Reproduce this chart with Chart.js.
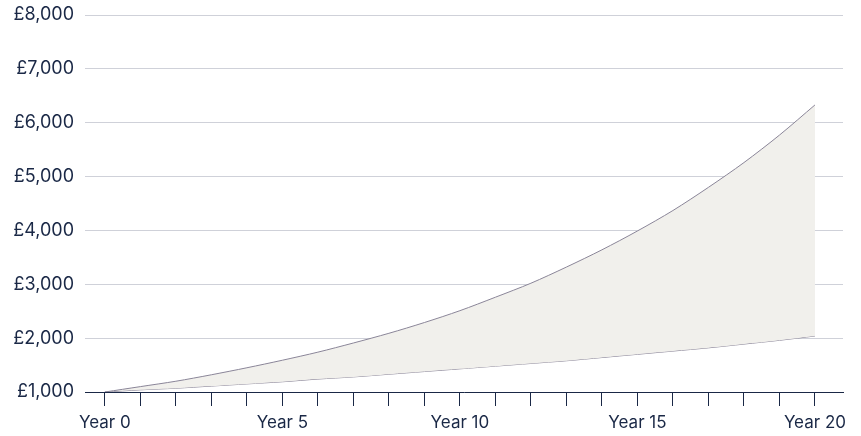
<!DOCTYPE html>
<html>
<head>
<meta charset="utf-8">
<script src="https://cdn.jsdelivr.net/npm/chart.js@4"></script>
<style>
  html, body { margin: 0; padding: 0; background: #fff; }
  #wrap { width: 861px; height: 436px; }
</style>
</head>
<body>
<div id="wrap"><canvas id="growth"></canvas></div>
<script>
const years = [0,1,2,3,4,5,6,7,8,9,10,11,12,13,14,15,16,17,18,19,20];
const upperValues = [1000,1100,1200,1320,1450,1590,1740,1910,2090,2290,2510,2760,3020,3320,3640,3990,4370,4800,5260,5770,6330];
const lowerValues = [1000,1040,1070,1110,1150,1190,1240,1280,1330,1380,1430,1480,1530,1580,1640,1700,1760,1820,1890,1960,2040];
const yTicks = [1000,2000,3000,4000,5000,6000,7000,8000];
const labelEvery = 5;

const navy = '#1a2846';
const lineCol = '#8a8598';

const toPoints = vals => years.map((y, i) => ({x: y, y: vals[i]}));

new Chart(document.getElementById('growth'), {
    type : 'line',
    data : {
        datasets : [{
            label : 'upper',
            data : toPoints(upperValues),
            borderColor : lineCol,
            borderWidth : 1,
            pointRadius : 0,
            tension : 0.3,
            fill : '+1',
            backgroundColor : '#f1f0ec'
        }, {
            label : 'lower',
            data : toPoints(lowerValues),
            borderColor : lineCol,
            borderWidth : 1,
            pointRadius : 0,
            tension : 0.3,
            fill : false
        }]
    },
    options : {
        responsive : true,
        maintainAspectRatio : false,
        animation : false,
        layout : { padding : { left : 0, right : 18, top : 15, bottom : 0 } },
        plugins : {
            legend : { display : false },
            tooltip : { enabled : false }
        },
        scales : {
            x : {
                type : 'linear',
                min : -0.56,
                max : 20.79,
                afterBuildTicks : scale => {
                    scale.ticks = years.map(v => ({value : v}));
                },
                afterFit : scale => { scale.height = 44; },
                grid : {
                    drawOnChartArea : false,
                    drawTicks : true,
                    tickLength : 14,
                    color : navy,
                    lineWidth : 1
                },
                border : { display : true, color : navy, width : 1 },
                ticks : {
                    autoSkip : false,
                    maxRotation : 0,
                    padding : 7,
                    color : navy,
                    font : { family : 'Inter', size : 17 },
                    callback : v => (v % labelEvery === 0 ? 'Year ' + v : '')
                }
            },
            y : {
                min : 1000,
                max : 8000,
                afterBuildTicks : scale => {
                    scale.ticks = yTicks.map(v => ({value : v}));
                },
                afterFit : scale => {
                    scale.width = 85;
                    scale.paddingTop = 0;
                    scale.paddingBottom = 0;
                },
                grid : {
                    color : '#cfd1d9',
                    lineWidth : 1,
                    drawTicks : false
                },
                border : { display : false },
                ticks : {
                    padding : 11,
                    color : navy,
                    font : { family : 'Inter', size : 18 },
                    callback : v => '£' + v.toLocaleString('en-GB')
                }
            }
        }
    }
});
</script>
</body>
</html>
